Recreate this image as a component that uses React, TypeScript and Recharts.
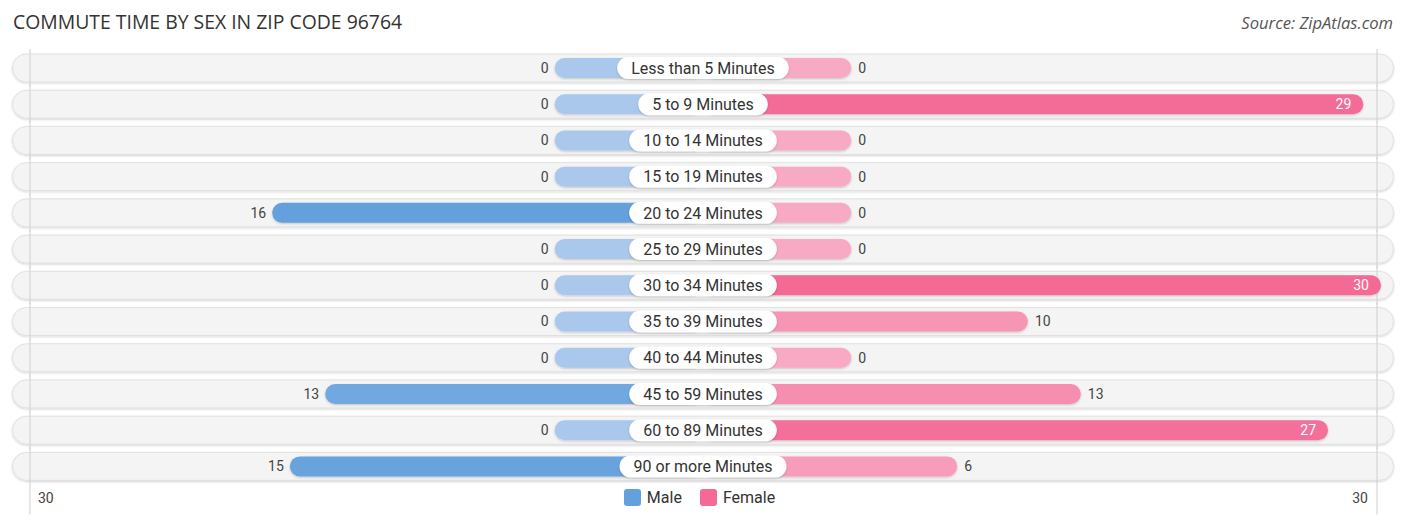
import React from 'react';
import { BarChart, Bar, XAxis, YAxis, LabelList } from 'recharts';

const categories = [
  'Less than 5 Minutes',
  '5 to 9 Minutes',
  '10 to 14 Minutes',
  '15 to 19 Minutes',
  '20 to 24 Minutes',
  '25 to 29 Minutes',
  '30 to 34 Minutes',
  '35 to 39 Minutes',
  '40 to 44 Minutes',
  '45 to 59 Minutes',
  '60 to 89 Minutes',
  '90 or more Minutes',
];
const maleValues = [0, 0, 0, 0, 16, 0, 0, 0, 0, 13, 0, 15];
const femaleValues = [0, 29, 0, 0, 0, 0, 30, 10, 0, 13, 27, 6];
const axisMax = 30;
const tickLabels = ['30', '30'];
const seriesNames = ['Male', 'Female'];

const STUB = 8.4; // minimum bar length (in value units) hidden under the category label
const EDGE = axisMax + STUB;

const MALE_LIGHT = '#a9c8eb';
const MALE_STRONG = '#64a0dc';
const FEMALE_LIGHT = '#f8aac4';
const FEMALE_STRONG = '#f36a95';

const maleMax = Math.max(...maleValues);
const femaleMax = Math.max(...femaleValues);

const data = categories.map((name, i) => ({
  name,
  male: -(maleValues[i] + STUB),
  female: femaleValues[i] + STUB,
  maleValue: maleValues[i],
  femaleValue: femaleValues[i],
}));

function hexToRgb(h: string) {
  const n = parseInt(h.slice(1), 16);
  return [(n >> 16) & 255, (n >> 8) & 255, n & 255];
}
function mix(a: string, b: string, t: number) {
  const A = hexToRgb(a);
  const B = hexToRgb(b);
  const c = A.map((v, i) => Math.round(v + (B[i] - v) * t));
  return `rgb(${c[0]},${c[1]},${c[2]})`;
}

let ctx: CanvasRenderingContext2D | null = null;
function measure(text: string, font: string) {
  if (!ctx) {
    const c = document.createElement('canvas');
    ctx = c.getContext('2d');
  }
  if (!ctx) return text.length * 8;
  ctx.font = font;
  return ctx.measureText(text).width;
}

const FONT = 'Roboto, "Noto Sans", sans-serif';
const LABEL_SIZE = 16;

const RowBackground = (p: any) => {
  const { x, y, width, height, index } = p;
  const h = 28;
  const cy = y + height / 2;
  const last = index === categories.length - 1;
  const gx1 = x + 5;
  const gx2 = x + width - 4;
  const top = cy - 19;
  const bottom = last ? cy + 48 : cy + 19;
  return (
    <g>
      <rect
        x={x - 12.5}
        y={cy - h / 2}
        width={width + 25}
        height={h}
        rx={h / 2}
        ry={h / 2}
        fill="#f4f4f4"
        stroke="#dcdcdc"
        strokeWidth={0.8}
        filter="url(#rowShadow)"
      />
      <line x1={gx1} x2={gx1} y1={top} y2={bottom} stroke="#cfcfcf" strokeWidth={1} />
      <line x1={gx2} x2={gx2} y1={top} y2={bottom} stroke="#cfcfcf" strokeWidth={1} />
    </g>
  );
};

const makeBarShape = (light: string, strong: string, max: number, key: 'maleValue' | 'femaleValue') => (p: any) => {
  const { x, y, width, height, payload } = p;
  const x0 = Math.min(x, x + width);
  const w = Math.abs(width);
  const v = payload[key];
  const fill = mix(light, strong, max > 0 ? v / max : 0);
  return (
    <rect
      x={x0}
      y={y}
      width={w}
      height={height}
      rx={height / 2}
      ry={height / 2}
      fill={fill}
      filter="url(#barShadow)"
    />
  );
};

const MaleValueLabel = (p: any) => {
  const { x, y, width, height, index } = p;
  const left = Math.min(x, x + width);
  return (
    <text
      x={left - 6}
      y={y + height / 2}
      dy="0.35em"
      textAnchor="end"
      fontSize={14}
      fill="#444"
      fontFamily={FONT}
    >
      {maleValues[index]}
    </text>
  );
};

const FemaleValueLabel = (p: any) => {
  const { x, y, width, height, index } = p;
  const right = Math.max(x, x + width);
  const v = femaleValues[index];
  const inside = femaleMax > 0 && v / femaleMax > 0.6;
  return (
    <text
      x={inside ? right - 12 : right + 7}
      y={y + height / 2}
      dy="0.35em"
      textAnchor={inside ? 'end' : 'start'}
      fontSize={14}
      fill={inside ? '#ffffff' : '#444'}
      fontFamily={FONT}
    >
      {v}
    </text>
  );
};

const CategoryLabel = (p: any) => {
  const { x, y, height, index } = p;
  const text = categories[index];
  const tw = measure(text, `${LABEL_SIZE}px ${FONT}`);
  const w = tw + 28;
  const h = 22;
  const cy = y + height / 2;
  return (
    <g>
      <rect
        x={x - w / 2}
        y={cy - h / 2}
        width={w}
        height={h}
        rx={h / 2}
        ry={h / 2}
        fill="#ffffff"
        filter="url(#labelShadow)"
      />
      <text
        x={x}
        y={cy}
        dy="0.36em"
        textAnchor="middle"
        fontSize={LABEL_SIZE}
        fill="#333"
        fontFamily={FONT}
      >
        {text}
      </text>
    </g>
  );
};

const AxisTick = (p: any) => {
  const { x, y, index } = p;
  const isLeft = index === 0;
  return (
    <text
      x={isLeft ? x + 13 : x - 13}
      y={y}
      dy="0.71em"
      textAnchor={isLeft ? 'start' : 'end'}
      fontSize={14}
      fill="#444"
      fontFamily={FONT}
    >
      {tickLabels[index]}
    </text>
  );
};

const LegendBlock = () => (
  <div
    style={{
      position: 'absolute',
      left: 0,
      top: 489,
      width: 1406,
      display: 'flex',
      justifyContent: 'center',
      alignItems: 'center',
      fontFamily: FONT,
      fontSize: 16,
      color: '#333',
      paddingRight: 7,
      boxSizing: 'border-box',
      height: 17,
    }}
  >
    {[MALE_STRONG, FEMALE_STRONG].map((c, i) => (
      <div key={i} style={{ display: 'flex', alignItems: 'center', marginLeft: i ? 18 : 0 }}>
        <div style={{ width: 17, height: 17, background: c, borderRadius: 3, marginRight: 6 }} />
        <span>{seriesNames[i]}</span>
      </div>
    ))}
  </div>
);

export default function App() {
  return (
    <div style={{ position: 'absolute', left: 0, top: 0, width: 1406, height: 523, background: '#fff' }}>
      <div
        style={{
          position: 'absolute',
          left: 13,
          top: 8,
          fontFamily: '"Open Sans", sans-serif',
          fontSize: 19.4,
          color: '#333',
          whiteSpace: 'nowrap',
        }}
      >
        COMMUTE TIME BY SEX IN ZIP CODE 96764
      </div>
      <div
        style={{
          position: 'absolute',
          right: 13,
          top: 11,
          fontFamily: '"Open Sans", sans-serif',
          fontStyle: 'italic',
          fontSize: 16.6,
          color: '#555',
          whiteSpace: 'nowrap',
        }}
      >
        Source: ZipAtlas.com
      </div>
      <BarChart
        width={1406}
        height={523}
        data={data}
        layout="vertical"
        stackOffset="sign"
        margin={{ top: 50, right: 25, bottom: 8, left: 25 }}
        barSize={20}
      >
        <defs>
          <filter id="rowShadow" x="-5%" y="-50%" width="110%" height="200%">
            <feDropShadow dx="0" dy="1" stdDeviation="1.2" floodColor="#000" floodOpacity="0.18" />
          </filter>
          <filter id="barShadow" x="-5%" y="-50%" width="110%" height="200%">
            <feDropShadow dx="0" dy="1" stdDeviation="0.8" floodColor="#000" floodOpacity="0.2" />
          </filter>
          <filter id="labelShadow" x="-20%" y="-50%" width="140%" height="200%">
            <feDropShadow dx="0" dy="1" stdDeviation="1" floodColor="#000" floodOpacity="0.2" />
          </filter>
        </defs>
        <XAxis
          type="number"
          domain={[-EDGE, EDGE]}
          ticks={[-EDGE, EDGE]}
          tick={<AxisTick />}
          axisLine={false}
          tickLine={false}
          height={30.4}
        />
        <YAxis type="category" dataKey="name" hide />
        <Bar
          dataKey="male"
          stackId="s"
          isAnimationActive={false}
          background={<RowBackground />}
          shape={makeBarShape(MALE_LIGHT, MALE_STRONG, maleMax, 'maleValue')}
        >
          <LabelList dataKey="maleValue" content={<MaleValueLabel />} />
        </Bar>
        <Bar
          dataKey="female"
          stackId="s"
          isAnimationActive={false}
          shape={makeBarShape(FEMALE_LIGHT, FEMALE_STRONG, femaleMax, 'femaleValue')}
        >
          <LabelList dataKey="femaleValue" content={<FemaleValueLabel />} />
          <LabelList dataKey="name" content={<CategoryLabel />} />
        </Bar>
      </BarChart>
      <LegendBlock />
    </div>
  );
}
